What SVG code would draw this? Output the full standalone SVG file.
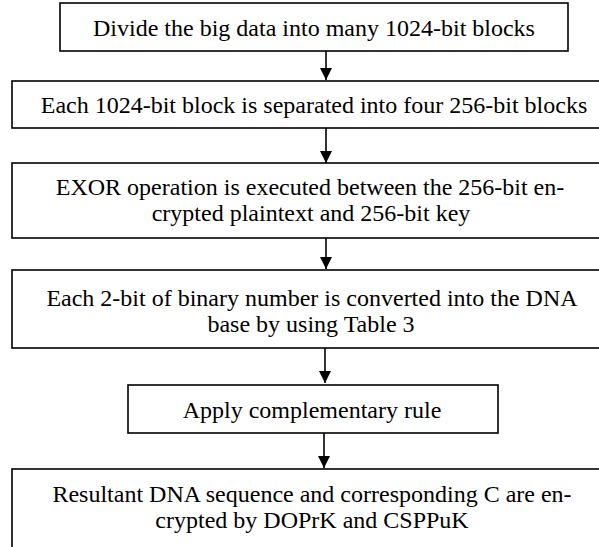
<svg xmlns="http://www.w3.org/2000/svg" width="599" height="547" viewBox="0 0 599 547">
<defs>
<marker id="ah" viewBox="0 0 12 13" refX="12" refY="6" markerWidth="12" markerHeight="13" markerUnits="userSpaceOnUse" orient="auto">
<path d="M0,0 L12,6 L0,12 Z" fill="#000"/>
</marker>
</defs>
<rect width="599" height="547" fill="#fff"/>
<g id="n1"><rect x="60" y="3" width="508" height="48" fill="#fff" stroke="#000" stroke-width="1.6"/><text font-family="'Liberation Serif'" font-size="24" text-anchor="middle" x="314" y="36">Divide the big data into many 1024-bit blocks</text></g>
<g id="n2"><rect x="12" y="81" width="604" height="47" fill="#fff" stroke="#000" stroke-width="1.6"/><text font-family="'Liberation Serif'" font-size="24" text-anchor="middle" x="314" y="113">Each 1024-bit block is separated into four 256-bit blocks</text></g>
<g id="n3"><rect x="12" y="163" width="604" height="75" fill="#fff" stroke="#000" stroke-width="1.6"/><text font-family="'Liberation Serif'" font-size="24" text-anchor="middle" x="310" y="195">EXOR operation is executed between the 256-bit en-</text><text font-family="'Liberation Serif'" font-size="24" text-anchor="middle" x="311" y="221">crypted plaintext and 256-bit key</text></g>
<g id="n4"><rect x="12" y="270" width="604" height="78" fill="#fff" stroke="#000" stroke-width="1.6"/><text font-family="'Liberation Serif'" font-size="24" text-anchor="middle" x="312" y="306">Each 2-bit of binary number is converted into the DNA</text><text font-family="'Liberation Serif'" font-size="24" text-anchor="middle" x="311" y="332">base by using Table 3</text></g>
<g id="n5"><rect x="128" y="385" width="370" height="48" fill="#fff" stroke="#000" stroke-width="1.6"/><text font-family="'Liberation Serif'" font-size="24" text-anchor="middle" x="312" y="418">Apply complementary rule</text></g>
<g id="n6"><rect x="12" y="469" width="604" height="95" fill="#fff" stroke="#000" stroke-width="1.6"/><text font-family="'Liberation Serif'" font-size="24" text-anchor="middle" x="312" y="502">Resultant DNA sequence and corresponding C are en-</text><text font-family="'Liberation Serif'" font-size="24" text-anchor="middle" x="312" y="528">crypted by DOPrK and CSPPuK</text></g>
<g id="connectors" stroke="#000" stroke-width="1.6" fill="none">
<line x1="326" y1="51" x2="326" y2="80" marker-end="url(#ah)"/>
<line x1="326" y1="128" x2="326" y2="163" marker-end="url(#ah)"/>
<line x1="326" y1="238" x2="326" y2="269" marker-end="url(#ah)"/>
<line x1="325" y1="348" x2="325" y2="383" marker-end="url(#ah)"/>
<line x1="324" y1="433" x2="324" y2="468" marker-end="url(#ah)"/>
</g>
</svg>
